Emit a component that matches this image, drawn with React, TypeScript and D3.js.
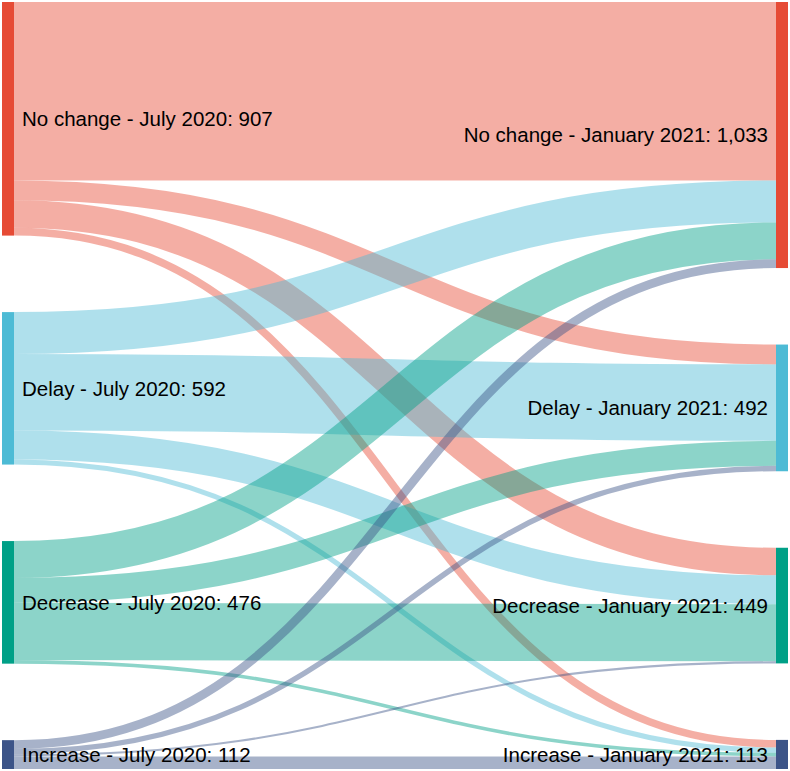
import React from "react";
import * as d3 from "d3";

const categories = ["No change", "Delay", "Decrease", "Increase"];
const leftPeriod = "July 2020";
const rightPeriod = "January 2021";
const nodeColors = ["#E64B35", "#4DBBD5", "#00A087", "#3C5488"];

// flows[source][target]
const fromNoChange = [693, 77, 107, 30];
const fromDelay = [163, 297, 112, 20];
const fromDecrease = [143, 97, 222, 14];
const fromIncrease = [34, 21, 8, 49];
const flows = [fromNoChange, fromDelay, fromDecrease, fromIncrease];

const W = 790;
const H = 771;
const TOP = 2;
const BOTTOM = 769;
const PAD = 76.5;
const NODE_W = 12;
const X_LEFT = 2;
const X_RIGHT = 776;

export default function App() {
  const leftTotals = flows.map((r) => d3.sum(r));
  const rightTotals = categories.map((_, j) => d3.sum(flows, (r) => r[j]));
  const grand = d3.sum(leftTotals);
  const ky = d3
    .scaleLinear()
    .domain([0, grand])
    .range([0, BOTTOM - TOP - PAD * (categories.length - 1)]);

  const layout = (totals: number[]) => {
    let y = TOP;
    return totals.map((t) => {
      const y0 = y;
      const y1 = y0 + ky(t);
      y = y1 + PAD;
      return { y0, y1, value: t };
    });
  };
  const leftNodes = layout(leftTotals);
  const rightNodes = layout(rightTotals);

  const links: any[] = [];
  const outOffset = leftNodes.map((n) => n.y0);
  const inOffset = rightNodes.map((n) => n.y0);
  const srcY: number[][] = flows.map((row, i) =>
    row.map((v) => {
      const y = outOffset[i] + ky(v) / 2;
      outOffset[i] += ky(v);
      return y;
    })
  );
  const tgtY: number[][] = flows.map((row) => row.map(() => 0));
  categories.forEach((_, j) => {
    flows.forEach((row, i) => {
      const v = row[j];
      tgtY[i][j] = inOffset[j] + ky(v) / 2;
      inOffset[j] += ky(v);
    });
  });
  flows.forEach((row, i) =>
    row.forEach((v, j) => {
      links.push({ i, j, v, y0: srcY[i][j], y1: tgtY[i][j], w: ky(v) });
    })
  );

  const x0 = X_LEFT + NODE_W;
  const x1 = X_RIGHT;
  const linkPath = (l: any) => {
    const p = d3.path();
    const xm = (x0 + x1) / 2;
    p.moveTo(x0, l.y0);
    p.bezierCurveTo(xm, l.y0, xm, l.y1, x1, l.y1);
    return p.toString();
  };
  const fmt = d3.format(",");

  return (
    <svg
      width={W}
      height={H}
      style={{ position: "absolute", left: 0, top: 0, background: "#fff" }}
      fontFamily="'Liberation Sans', Arial, Helvetica, sans-serif"
    >
      <g>
        {links.map((l, k) => (
          <path
            key={k}
            d={linkPath(l)}
            fill="none"
            stroke={nodeColors[l.i]}
            strokeOpacity={0.45}
            strokeWidth={Math.max(1, l.w)}
          />
        ))}
      </g>
      <g>
        {leftNodes.map((n, i) => (
          <rect
            key={"l" + i}
            x={X_LEFT}
            y={n.y0}
            width={NODE_W}
            height={n.y1 - n.y0}
            fill={nodeColors[i]}
          />
        ))}
        {rightNodes.map((n, i) => (
          <rect
            key={"r" + i}
            x={X_RIGHT}
            y={n.y0}
            width={NODE_W}
            height={n.y1 - n.y0}
            fill={nodeColors[i]}
          />
        ))}
      </g>
      <g fontSize={20.5} fill="#000">
        {leftNodes.map((n, i) => (
          <text
            key={"lt" + i}
            x={X_LEFT + NODE_W + 8}
            y={(n.y0 + n.y1) / 2}
            dy="0.35em"
          >
            {`${categories[i]} - ${leftPeriod}: ${fmt(n.value)}`}
          </text>
        ))}
        {rightNodes.map((n, i) => (
          <text
            key={"rt" + i}
            x={X_RIGHT - 8}
            y={(n.y0 + n.y1) / 2}
            dy="0.35em"
            textAnchor="end"
          >
            {`${categories[i]} - ${rightPeriod}: ${fmt(n.value)}`}
          </text>
        ))}
      </g>
    </svg>
  );
}
